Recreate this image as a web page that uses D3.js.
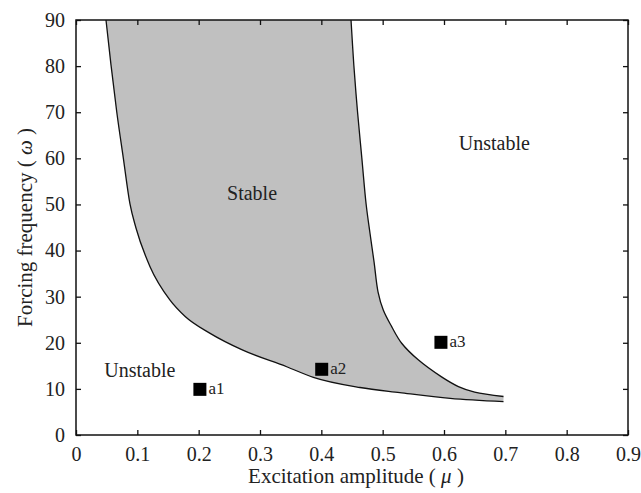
<!DOCTYPE html>
<html>
<head>
<meta charset="utf-8">
<script src="https://cdn.jsdelivr.net/npm/d3@7"></script>
<style>
  html, body { margin: 0; padding: 0; background: #fff; }
  svg text { font-family: "Liberation Serif", "Times New Roman", serif; fill: #222; }
</style>
</head>
<body>
<svg id="chart" width="641" height="493"></svg>
<script>
// ---- data ----
const xTicks = [0, 0.1, 0.2, 0.3, 0.4, 0.5, 0.6, 0.7, 0.8, 0.9];
const yTicks = [0, 10, 20, 30, 40, 50, 60, 70, 80, 90];
// lower/left stability boundary (mu, omega)
const leftMu    = [0.0489, 0.0571, 0.0664, 0.0771, 0.088, 0.0978, 0.1207, 0.153, 0.178, 0.218, 0.272, 0.3435, 0.387, 0.463, 0.528, 0.61, 0.697];
const leftOmega = [90, 80.2, 70.1, 60.1, 50.1, 44.9, 36.5, 29.3, 25.7, 22.1, 18.4, 14.8, 12.5, 10.3, 9.2, 7.95, 7.25];
// upper/right stability boundary (mu, omega)
const rightMu    = [0.4484, 0.453, 0.459, 0.466, 0.473, 0.4794, 0.486, 0.4925, 0.501, 0.5147, 0.531, 0.558, 0.596, 0.6235, 0.65, 0.697];
const rightOmega = [90, 80.2, 70.1, 60.1, 50.1, 43.7, 37.5, 31.0, 27.1, 23.5, 19.9, 16.3, 12.6, 10.5, 9.3, 8.35];
// marked points
const pointNames = ["a1", "a2", "a3"];
const pointMu    = [0.202, 0.4006, 0.595];
const pointOmega = [9.9, 14.25, 20.1];
// region labels
const regionNames = ["Stable", "Unstable", "Unstable"];
const regionMu    = [0.287, 0.682, 0.104];
const regionOmega = [51, 61.7, 12.6];

// ---- layout ----
const W = 641, H = 493;
const m = { left: 76, top: 20, right: 13, bottom: 58 };
const svg = d3.select("#chart");
const x = d3.scaleLinear().domain([0, 0.9]).range([m.left, W - m.right]);
const y = d3.scaleLinear().domain([0, 90]).range([H - m.bottom, m.top]);

const left = leftMu.map((v, i) => [v, leftOmega[i]]);
const right = rightMu.map((v, i) => [v, rightOmega[i]]);

const lineL = d3.line().x(d => x(d[0])).y(d => y(d[1])).curve(d3.curveMonotoneX);
const lineR = d3.line().x(d => x(d[0])).y(d => y(d[1])).curve(d3.curveCatmullRom.alpha(0.5));

// shaded stable region: left boundary, then right boundary reversed
const leftPath = lineL(left);
const rightPath = lineR(right);
const rightRevPath = lineR(right.slice().reverse());
svg.append("path")
  .attr("d", leftPath + "L" + rightRevPath.slice(1) + "Z")
  .attr("fill", "#c0c0c0").attr("stroke", "none");

svg.append("path").attr("d", leftPath).attr("fill", "none").attr("stroke", "#111").attr("stroke-width", 1.3);
svg.append("path").attr("d", rightPath).attr("fill", "none").attr("stroke", "#111").attr("stroke-width", 1.3);

// ---- axes (ticks inward on all sides) ----
const tickLen = 5;
const gx = svg.append("g").attr("transform", `translate(0,${H - m.bottom})`)
  .call(d3.axisBottom(x).tickValues(xTicks).tickSizeInner(-tickLen).tickSizeOuter(0).tickPadding(12)
    .tickFormat(d => d === 0 ? "0" : d3.format(".1f")(d)));
const gxTop = svg.append("g").attr("transform", `translate(0,${m.top})`)
  .call(d3.axisTop(x).tickValues(xTicks).tickSizeInner(-tickLen).tickSizeOuter(0).tickFormat(""));
const gy = svg.append("g").attr("transform", `translate(${m.left},0)`)
  .call(d3.axisLeft(y).tickValues(yTicks).tickSizeInner(-tickLen).tickSizeOuter(0).tickPadding(11));
const gyR = svg.append("g").attr("transform", `translate(${W - m.right},0)`)
  .call(d3.axisRight(y).tickValues(yTicks).tickSizeInner(-tickLen).tickSizeOuter(0).tickFormat(""));

[gx, gxTop, gy, gyR].forEach(g => {
  g.attr("font-family", null);
  g.select(".domain").remove();
  g.selectAll(".tick line").attr("stroke", "#111").attr("stroke-width", 1.3);
  g.selectAll(".tick text").attr("font-size", 20).attr("fill", "#222")
    .style("font-family", '"Liberation Serif", serif');
});

// frame
svg.append("rect")
  .attr("x", x(0)).attr("y", y(90))
  .attr("width", x(0.9) - x(0)).attr("height", y(0) - y(90))
  .attr("fill", "none").attr("stroke", "#111").attr("stroke-width", 1.5);

// ---- markers ----
const sq = 13;
pointNames.forEach((name, i) => {
  svg.append("rect")
    .attr("x", x(pointMu[i]) - sq / 2).attr("y", y(pointOmega[i]) - sq / 2)
    .attr("width", sq).attr("height", sq).attr("fill", "#000");
  svg.append("text")
    .attr("x", x(pointMu[i]) + sq / 2 + 2).attr("y", y(pointOmega[i]) + 5)
    .attr("font-size", 17).text(name);
});

// ---- region labels ----
regionNames.forEach((name, i) => {
  svg.append("text")
    .attr("x", x(regionMu[i])).attr("y", y(regionOmega[i]))
    .attr("text-anchor", "middle").attr("font-size", 20).text(name);
});

// ---- axis titles ----
const xt = svg.append("text")
  .attr("x", (x(0) + x(0.9)) / 2 + 4).attr("y", 483)
  .attr("text-anchor", "middle").attr("font-size", 21);
xt.append("tspan").text("Excitation amplitude ( ");
xt.append("tspan").attr("font-style", "italic").text("μ");
xt.append("tspan").text(" )");

const yt = svg.append("text")
  .attr("transform", `translate(32,${(y(0) + y(90)) / 2}) rotate(-90)`)
  .attr("text-anchor", "middle").attr("font-size", 21);
yt.append("tspan").text("Forcing frequency ( ");
yt.append("tspan").attr("font-style", "italic").text("ω");
yt.append("tspan").text(" )");
</script>
</body>
</html>
